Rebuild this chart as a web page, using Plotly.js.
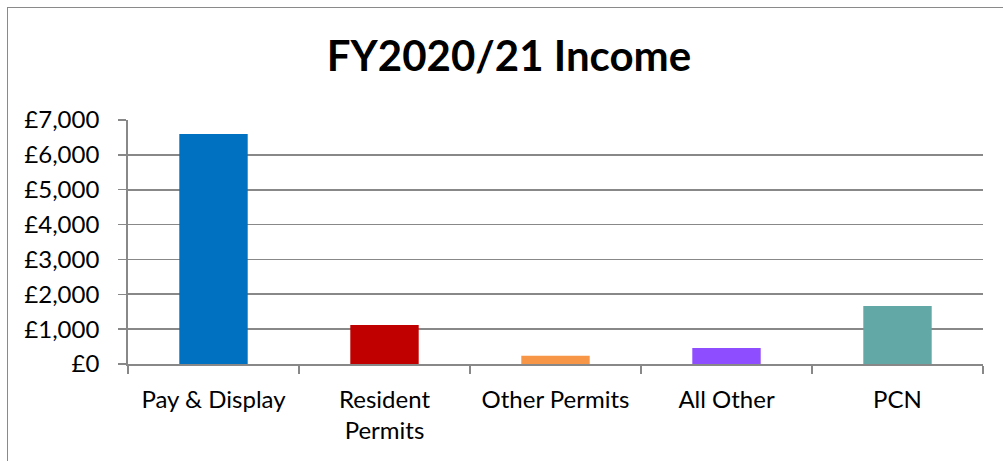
<!DOCTYPE html>
<html>
<head>
<meta charset="utf-8">
<script src="https://cdn.plot.ly/plotly-3.0.1.min.js"></script>
<style>
html,body{margin:0;padding:0;background:#fff;}
#wrap{position:relative;width:1003px;height:461px;overflow:hidden;}
#chart{position:absolute;left:0;top:0;width:1003px;height:461px;}
#frame{position:absolute;left:7px;top:7px;width:1100px;height:600px;border-left:1.5px solid #8a8a8a;border-top:1.5px solid #8a8a8a;pointer-events:none;}
</style>
</head>
<body>
<div id="wrap"><div id="chart"></div><div id="frame"></div></div>
<script>
const categories = ["Pay & Display", "Resident Permits", "Other Permits", "All Other", "PCN"];
const tickLabels = ["Pay & Display", "Resident<br>Permits", "Other Permits", "All Other", "PCN"];
const income = [6600, 1120, 235, 460, 1665];
const barColors = ["#0070C0", "#C00000", "#F79646", "#8E4DFF", "#62A8A7"];
const yTicks = [0, 1000, 2000, 3000, 4000, 5000, 6000, 7000];
const yTickText = ["£0", "£1,000", "£2,000", "£3,000", "£4,000", "£5,000", "£6,000", "£7,000"];

const FONT = "Lato, 'Open Sans', sans-serif";

Plotly.newPlot("chart", [{
  type: "bar",
  x: categories,
  y: income,
  marker: {color: barColors, line: {width: 0}},
  hoverinfo: "x+y"
}], {
  width: 1003, height: 461,
  margin: {l: 128, r: 20, t: 120, b: 97},
  paper_bgcolor: "#ffffff",
  plot_bgcolor: "#ffffff",
  bargap: 0.6,
  showlegend: false,
  font: {family: FONT, color: "#000000", size: 24},
  title: {
    text: "<b>FY2020/21 Income</b>",
    font: {family: FONT, size: 42, color: "#000000"},
    xref: "container", x: 0.5075, xanchor: "center",
    yref: "container", y: 0.878, yanchor: "middle"
  },
  xaxis: {
    type: "category",
    tickmode: "array",
    tickvals: categories,
    ticktext: tickLabels,
    tickson: "boundaries",
    ticks: "outside",
    ticklen: 8,
    tickwidth: 1.5,
    tickcolor: "#888888",
    showline: true,
    linecolor: "#888888",
    linewidth: 1.8,
    showgrid: false,
    zeroline: false,
    tickfont: {family: FONT, size: 24, color: "#000000"},
    ticklabelstandoff: 13
  },
  yaxis: {
    range: [0, 7000],
    tickmode: "array",
    tickvals: yTicks,
    ticktext: yTickText,
    ticks: "outside",
    ticklen: 8,
    tickwidth: 1.5,
    tickcolor: "#888888",
    showline: true,
    linecolor: "#888888",
    linewidth: 1.8,
    showgrid: true,
    gridcolor: "#888888",
    gridwidth: 1.8,
    zeroline: false,
    tickfont: {family: FONT, size: 24, color: "#000000"},
    ticklabelstandoff: 14
  }
}, {displayModeBar: false, staticPlot: true});
</script>
</body>
</html>
